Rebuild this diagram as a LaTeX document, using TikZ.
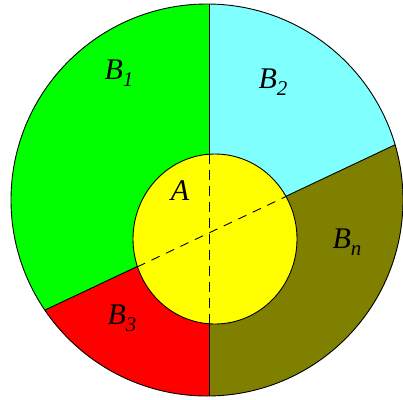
\documentclass[tikz,border=0pt]{standalone}
\usepackage{fontspec}
\setmainfont{Liberation Serif}
\newcommand{\blbl}[1]{\textit{B}\raisebox{-7pt}{\fontsize{21}{24}\selectfont\textit{#1}}}
\begin{document}
\begin{tikzpicture}[x=1pt,y=-1pt]
\tikzstyle{lbl} = [font=\fontsize{30}{34}\selectfont, inner sep=0pt]
\tikzstyle{edge} = [line width=0.9pt]
\definecolor{bgreen}{RGB}{0,255,0}
\definecolor{bcyan}{RGB}{128,255,255}
\definecolor{bolive}{RGB}{128,128,0}
\definecolor{bred}{RGB}{255,0,0}
\definecolor{byellow}{RGB}{255,255,0}

\useasboundingbox (0,0) rectangle (403,399);

\coordinate (O) at (207,200);
\coordinate (C) at (215,239);
\coordinate (L) at (-10,336);
\coordinate (R) at (420,133);
\coordinate (X) at (209,233);
\coordinate (li) at (137,267);
\coordinate (ri) at (287,196);
\coordinate (ti) at (209,154);
\coordinate (bi) at (209,324);

\begin{scope}
\clip (O) circle (196);
\fill[bgreen] (-10,-10) rectangle (420,420);
\fill[bcyan] (209,-10) -- (X) -- (R) -- (420,-10) -- cycle;
\fill[bred] (209,420) -- (X) -- (L) -- (-10,420) -- cycle;
\fill[bolive] (209,420) -- (X) -- (R) -- (420,420) -- cycle;
\draw[edge] (209,-10) -- (209,420);
\draw[edge] (L) -- (R);
\end{scope}

\filldraw[edge, fill=byellow] (C) ellipse [x radius=82, y radius=85];
\draw[edge, dash pattern=on 10pt off 6pt] (ti) -- (bi);
\draw[edge, dash pattern=on 9pt off 7pt] (li) -- (ri);
\draw[edge] (O) circle (196);

\node[lbl] (b1) at (119,73) {\blbl{1}};
\node[lbl] (b2) at (273,82) {\blbl{2}};
\node[lbl] (bn) at (347,242) {\blbl{n}};
\node[lbl] (b3) at (122,318) {\blbl{3}};
\node[lbl] (a) at (180,191) {\textit{A}};

\end{tikzpicture}
\end{document}
